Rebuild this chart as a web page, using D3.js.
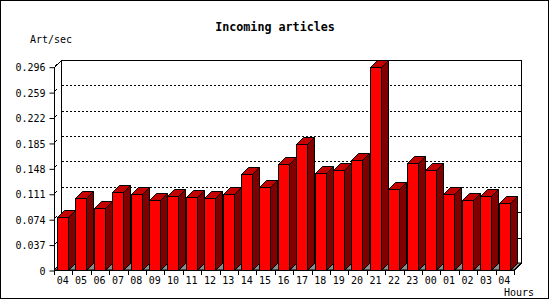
<!DOCTYPE html>
<html>
<head>
<meta charset="utf-8">
<script src="https://cdn.jsdelivr.net/npm/d3@7"></script>
<style>
  html, body { margin: 0; padding: 0; background: #fff; }
  svg { display: block; }
  text { font-family: "DejaVu Sans Mono", "Liberation Mono", monospace; fill: #000; }
</style>
</head>
<body>
<svg id="chart" width="550" height="300"></svg>
<script>
const hours = ["04","05","06","07","08","09","10","11","12","13","14","15","16","17","18","19","20","21","22","23","00","01","02","03","04"];
const rate = [0.0767,0.1044,0.0898,0.1131,0.1102,0.1015,0.1073,0.1058,0.1044,0.1102,0.1393,0.1204,0.1539,0.1839,0.1408,0.1452,0.1597,0.2951,0.1175,0.1553,0.1452,0.1102,0.1015,0.1073,0.0971];
const yTicks = [0,0.037,0.074,0.111,0.148,0.185,0.222,0.259,0.296];
const yTickLabels = ["0","0.037","0.074","0.111","0.148","0.185","0.222","0.259","0.296"];
const title = "Incoming articles";
const yTitle = "Art/sec";
const xTitle = "Hours";

const svg = d3.select("#chart");
const W = 550, H = 300;
const left = 54, right = 514, bottom = 270, topV = 66.7;
const dx = 7, dy = 7;

const x = d3.scaleBand().domain(d3.range(hours.length)).range([left, right]).padding(0);
const y = d3.scaleLinear().domain([0, 0.296]).range([bottom, topV]);

svg.append("rect").attr("x",0).attr("y",0).attr("width",W).attr("height",H).attr("fill","#fff");
svg.append("rect").attr("x",0.5).attr("y",0.5).attr("width",548).attr("height",298)
  .attr("fill","none").attr("stroke","#000");

const g = svg.append("g");

// back wall
const bx0 = left + dx, bx1 = right + dx, by0 = y(0.296) - dy, by1 = bottom - dy;
g.append("rect").attr("x", Math.round(bx0)+0.5).attr("y", Math.round(by0)+0.5)
  .attr("width", Math.round(bx1) - Math.round(bx0)).attr("height", Math.round(by1) - Math.round(by0))
  .attr("fill","#fff").attr("stroke","#000");

// grid lines on back wall
g.selectAll("line.grid").data(yTicks.filter(v => v > 0 && v < 0.296)).join("line")
  .attr("x1", Math.round(bx0)+1).attr("x2", Math.round(bx1))
  .attr("y1", d => Math.round(y(d) - dy)+0.5).attr("y2", d => Math.round(y(d) - dy)+0.5)
  .attr("stroke","#000").attr("stroke-dasharray","2,2");

// right ticks
g.selectAll("line.rt").data(yTicks.filter(v => v > 0 && v < 0.296)).join("line")
  .attr("x1", Math.round(bx1)-3).attr("x2", Math.round(bx1))
  .attr("y1", d => Math.round(y(d) - dy)+0.5).attr("y2", d => Math.round(y(d) - dy)+0.5)
  .attr("stroke","#000");

// floor
g.append("polygon")
  .attr("points", [[left, bottom],[left+dx, bottom-dy],[right+dx, bottom-dy],[right, bottom]].map(p=>p.join(",")).join(" "))
  .attr("fill","#8c8c8c").attr("stroke","#000");

// bars
const frontW = x.bandwidth() * 0.615;
const off = 3;
const bars = g.selectAll("g.bar").data(rate).join("g");
bars.each(function(v, i) {
  const s = d3.select(this);
  const fx = Math.round(x(i) + off) + 0.5;
  const fw = Math.round(frontW);
  const ty = Math.round(y(v)) + 0.5;
  const by = bottom + 0.5;
  s.append("polygon")
    .attr("points", [[fx+fw, ty],[fx+fw+dx, ty-dy],[fx+fw+dx, by-dy],[fx+fw, by]].map(p=>p.join(",")).join(" "))
    .attr("fill","#800000").attr("stroke","#000");
  s.append("polygon")
    .attr("points", [[fx, ty],[fx+dx, ty-dy],[fx+fw+dx, ty-dy],[fx+fw, ty]].map(p=>p.join(",")).join(" "))
    .attr("fill","#c40000").attr("stroke","#000");
  s.append("rect").attr("x", fx).attr("y", ty).attr("width", fw).attr("height", by - ty)
    .attr("fill","#ff0000").attr("stroke","#000");
});

// front left axis with top diagonal
g.append("line").attr("x1", left+0.5).attr("x2", left+0.5).attr("y1", Math.round(y(0.296))).attr("y2", bottom+1).attr("stroke","#000");
g.append("line").attr("x1", left+0.5).attr("y1", Math.round(y(0.296))+0.5).attr("x2", bx0+0.5).attr("y2", Math.round(by0)+0.5).attr("stroke","#000");
// right bottom diagonal
g.append("line").attr("x1", right+0.5).attr("y1", bottom+0.5).attr("x2", Math.round(bx1)+0.5).attr("y2", Math.round(by1)+0.5).attr("stroke","#000");
// bottom axis line
g.append("line").attr("x1", left).attr("x2", right+1).attr("y1", bottom+0.5).attr("y2", bottom+0.5).attr("stroke","#000");

// small diagonal tick stubs
g.selectAll("line.diag").data(yTicks).join("line")
  .attr("x1", left+1).attr("y1", d => Math.round(y(d))-1)
  .attr("x2", left+3).attr("y2", d => Math.round(y(d))-3)
  .attr("stroke","#000");

// y axis
const yAxis = d3.axisLeft(y).tickValues(yTicks).tickFormat((d,i) => yTickLabels[i]).tickSize(5).tickPadding(4);
const ya = svg.append("g").attr("transform", `translate(${left+0.5},0.5)`).call(yAxis);
ya.select(".domain").remove();
ya.selectAll("line").attr("stroke","#000");
ya.selectAll("text").attr("font-size","10px").attr("font-family","DejaVu Sans Mono").attr("fill","#000").attr("dy","0.36em");

// x ticks at band boundaries
const bounds = d3.range(hours.length + 1).map(i => i < hours.length ? x(i) : x(hours.length-1) + x.step());
svg.selectAll("line.xt").data(bounds).join("line")
  .attr("x1", d => Math.round(d)+0.5).attr("x2", d => Math.round(d)+0.5)
  .attr("y1", bottom).attr("y2", bottom+5).attr("stroke","#000");

// x labels
svg.selectAll("text.xl").data(hours).join("text")
  .attr("x", (d,i) => x(i) + x.bandwidth()/2 - 0.5).attr("y", 284)
  .attr("text-anchor","middle").attr("font-size","10px").text(d => d);

svg.append("text").attr("x", 275).attr("y", 31).attr("text-anchor","middle")
  .attr("font-size","11.7px").attr("font-weight","bold").text(title);
svg.append("text").attr("x", 30).attr("y", 43).attr("font-size","10px").text(yTitle);
svg.append("text").attr("x", 534).attr("y", 296).attr("text-anchor","end").attr("font-size","10px").text(xTitle);
</script>
</body>
</html>
